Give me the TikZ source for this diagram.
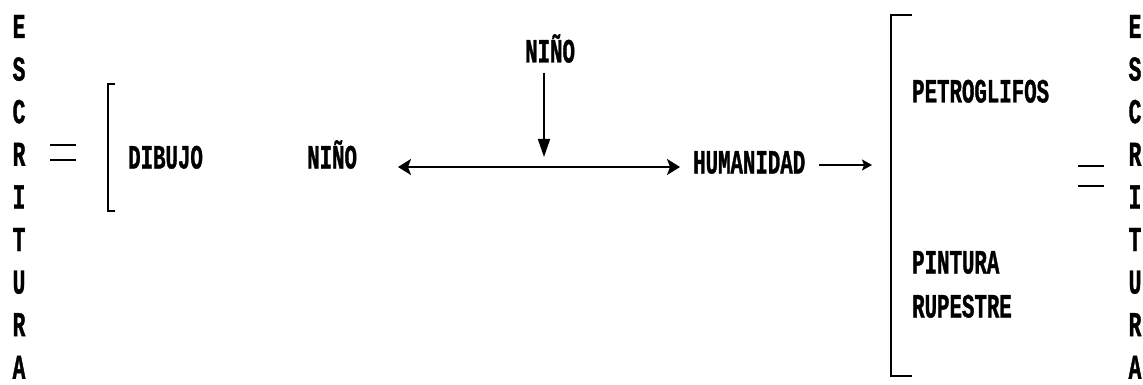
\documentclass[tikz,border=0pt]{standalone}
\usepackage{fontspec}
\usetikzlibrary{arrows.meta}
\newfontfamily\dosfont[FakeStretch=0.61,FakeBold=1]{Liberation Mono Bold}
\tikzset{
  lbl/.style={font=\dosfont\fontsize{34}{34}\selectfont, inner sep=0pt, anchor=west, text height=21pt, text depth=0pt},
  letter/.style={font=\dosfont\fontsize{35}{35}\selectfont, inner sep=0pt, text height=22pt, text depth=0pt},
  bar/.style={line width=2pt},
  arrboth/.style={line width=2pt, {Stealth[length=13pt,width=16pt,inset=3pt]}-{Stealth[length=13pt,width=16pt,inset=3pt]}},
  varr/.style={line width=1.6pt, -{Triangle[length=18pt,width=12pt]}},
  sarr/.style={line width=1.6pt, -{Stealth[length=10pt,width=11pt,inset=2pt]}}
}
\begin{document}
\begin{tikzpicture}[x=1pt,y=-1pt]
\fill[white] (0,0) rectangle (1143,385);
\useasboundingbox (0,0) rectangle (1143,385);
% vertical words
\foreach \c [count=\i from 0] in {E,S,C,R,I,T,U,R,A} {
  \node[letter] (L\i) at (19, 27+42.6*\i) {\c};
  \node[letter] (R\i) at (1135, 27+42.6*\i) {\c};
}
% equals signs
\draw[bar] (50,145) -- (76,145) (50,160) -- (76,160);
\draw[bar] (1078,166) -- (1104,166) (1078,186) -- (1104,186);
% brackets
\draw[bar] (115,84) -- (108,84) -- (108,211) -- (115,211);
\draw[bar] (912,15) -- (891,15) -- (891,376) -- (912,376);
% labels
\node[lbl] (dibujo) at (128,158) {DIBUJO};
\node[lbl] (nino) at (307,158) {NIÑO};
\node[lbl] (ninotop) at (525,52) {NIÑO};
\node[lbl] (hum) at (693,163) {HUMANIDAD};
\node[lbl] (petro) at (912,92) {PETROGLIFOS};
\node[lbl] (pint) at (912,263) {PINTURA};
\node[lbl] (rup) at (912,307) {RUPESTRE};
% connectors
\coordinate (hl) at (398,167);
\coordinate (hr) at (680,167);
\coordinate (vt) at (544,157);
\coordinate (brk) at (872,165);
\draw[arrboth] (hl) -- (hr);
\draw[varr] (ninotop.south -| vt) ++(0,10) -- (vt);
\draw[sarr, shorten <=14pt] (hum.east |- brk) -- (brk);
\end{tikzpicture}
\end{document}
